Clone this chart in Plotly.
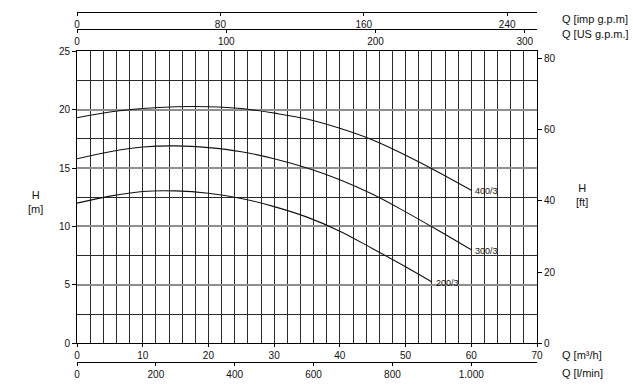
import plotly.graph_objects as go

# ---- data ----
q_400 = [0, 5, 10, 15, 20, 25, 30, 35, 40, 45, 50, 55, 60]
h_400 = [19.3, 19.8, 20.1, 20.25, 20.25, 20.1, 19.7, 19.2, 18.4, 17.4, 16.1, 14.65, 13.1]

q_300 = [0, 5, 10, 15, 20, 25, 30, 35, 40, 45, 50, 55, 60]
h_300 = [15.8, 16.4, 16.8, 16.9, 16.75, 16.4, 15.8, 15.0, 14.0, 12.75, 11.25, 9.65, 8.0]

q_200 = [0, 5, 10, 15, 20, 25, 30, 35, 40, 45, 50, 54]
h_200 = [12.0, 12.6, 13.0, 13.05, 12.85, 12.4, 11.7, 10.8, 9.6, 8.1, 6.55, 5.25]

curve_names = ["400/3", "300/3", "200/3"]

m3h_ticks = [0, 10, 20, 30, 40, 50, 60, 70]
lmin_ticks = [0, 200, 400, 600, 800, 1000]
lmin_text = ["0", "200", "400", "600", "800", "1.000"]
usgpm_ticks = [0, 100, 200, 300]
impgpm_ticks = [0, 80, 160, 240]
hm_ticks = [0, 5, 10, 15, 20, 25]
hft_ticks = [0, 20, 40, 60, 80]

Q_MAX = 70
H_MAX = 25

FONT = "Arial, Liberation Sans, sans-serif"
DARK = "#2a2a2a"

fig = go.Figure()
for q, h, name in zip([q_400, q_300, q_200], [h_400, h_300, h_200], curve_names):
    fig.add_trace(go.Scatter(x=q, y=h, mode="lines", line=dict(color="#111", width=1.1, shape="spline", smoothing=1.0),
                             name=name, showlegend=False, hoverinfo="skip"))
    fig.add_annotation(x=q[-1], y=h[-1], text=name, showarrow=False, xanchor="left", yanchor="middle",
                       xshift=2, yshift=-1, font=dict(family=FONT, size=9, color="#111"))

# empty traces to activate secondary axes
for xa, ya in [("x2", "y"), ("x3", "y"), ("x4", "y"), ("x", "y2")]:
    fig.add_trace(go.Scatter(x=[], y=[], xaxis=xa, yaxis=ya, showlegend=False, hoverinfo="skip"))

ydom = [1 - 343 / 362, 1 - 46 / 362]
tickfont = dict(family=FONT, size=10, color="#111")

fig.update_layout(
    width=633, height=385,
    margin=dict(l=77, r=96, t=0, b=23),
    paper_bgcolor="white", plot_bgcolor="white",
    font=dict(family=FONT, size=10, color="#111"),
    xaxis=dict(range=[0, Q_MAX], domain=[0, 1], tickvals=m3h_ticks, showgrid=True, gridcolor=DARK, gridwidth=1,
               minor=dict(dtick=2, tick0=0, showgrid=True, gridcolor=DARK, gridwidth=1),
               showline=True, linecolor="#000", linewidth=1, mirror=True, ticks="outside", ticklen=3,
               tickcolor="#000", tickfont=tickfont, zeroline=False, anchor="y"),
    xaxis2=dict(range=[0, Q_MAX * 1000 / 60], overlaying="x", anchor="free", position=0, side="bottom",
                tickvals=lmin_ticks, ticktext=lmin_text, showgrid=False, showline=True, linecolor="#000",
                linewidth=1, ticks="outside", ticklen=3, tickcolor="#000", tickfont=tickfont, zeroline=False),
    xaxis3=dict(range=[0, Q_MAX * 3.66615], overlaying="x", anchor="free", position=1 - 6 / 362, side="bottom",
                tickvals=impgpm_ticks, showgrid=False, showline=True, linecolor="#000", linewidth=1,
                ticks="outside", ticklen=3, tickcolor="#000", tickfont=tickfont, zeroline=False),
    xaxis4=dict(range=[0, Q_MAX * 4.40287], overlaying="x", anchor="free", position=1 - 23 / 362, side="bottom",
                tickvals=usgpm_ticks, showgrid=False, showline=True, linecolor="#000", linewidth=1,
                ticks="outside", ticklen=3, tickcolor="#000", tickfont=tickfont, zeroline=False),
    yaxis=dict(range=[0, H_MAX], domain=ydom, tickvals=hm_ticks, showgrid=True, gridcolor="#8e8e8e", gridwidth=2,
               minor=dict(dtick=2.5, tick0=0, showgrid=True, gridcolor=DARK, gridwidth=1),
               showline=True, linecolor="#000", linewidth=1, ticks="outside", ticklen=4, tickcolor="#000",
               tickfont=tickfont, zeroline=False, anchor="x"),
    yaxis2=dict(range=[0, H_MAX * 3.28084], overlaying="y", side="right", anchor="x", tickvals=hft_ticks,
                showgrid=False, showline=True, linecolor="#000", linewidth=1, ticks="outside", ticklen=4,
                tickcolor="#000", tickfont=tickfont, zeroline=False),
)

titles = [
    ("Q [imp g.p.m]", 1.05, 1 - 13 / 362, "left"),
    ("Q [US g.p.m.]", 1.05, 1 - 28 / 362, "left"),
    ("Q [m³/h]", 1.05, 1 - 355 / 362, "left"),
    ("Q [l/min]", 1.05, 1 - 373 / 362, "left"),
    ("H<br>[ft]", (582 - 77) / 460, 1 - 192 / 362, "center"),
    ("H<br>[m]", (35 - 77) / 460, 1 - 199 / 362, "center"),
]
for text, x, y, xa in titles:
    fig.add_annotation(text=text, x=x, y=y, xref="paper", yref="paper", showarrow=False, xanchor=xa,
                       yanchor="middle", align="center", font=dict(family=FONT, size=11, color="#111"))

fig.write_html("out.html", config={"displayModeBar": False},
               post_script="document.body.style.margin='0';document.body.style.padding='0';")
